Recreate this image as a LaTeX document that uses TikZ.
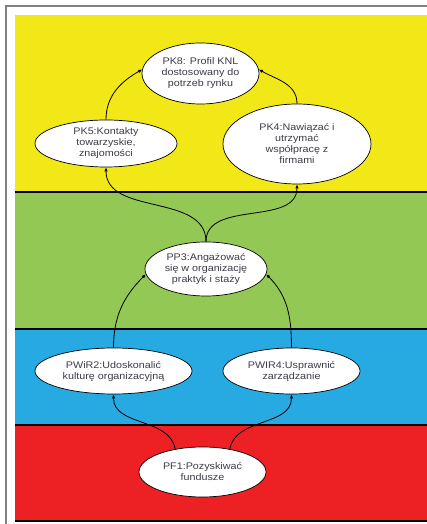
\documentclass[tikz,border=0pt]{standalone}
\usepackage{fontspec}
\setmainfont[FakeStretch=1.12]{Liberation Sans}
\usetikzlibrary{shapes.geometric,arrows.meta}
\definecolor{pasY}{RGB}{242,232,24}
\definecolor{pasG}{RGB}{146,200,83}
\definecolor{pasB}{RGB}{38,170,225}
\definecolor{pasR}{RGB}{237,32,36}
\definecolor{txt}{RGB}{60,60,72}

\begin{document}
\begin{tikzpicture}[x=1pt,y=1pt,>={Latex[length=4pt,width=3.5pt]},
  cel/.style={ellipse,draw,line width=0.7pt,fill=white,inner sep=0pt,align=center,
    font=\fontsize{9.6}{11}\selectfont,text=txt},
  link/.style={->,line width=0.8pt}]
\useasboundingbox (0,0) rectangle (427,524);
% pasy perspektyw
\fill[pasY] (15,332) rectangle (427,509);
\fill[pasG] (15,195) rectangle (427,332);
\fill[pasB] (15,99) rectangle (427,195);
\fill[pasR] (15,3) rectangle (427,99);
\draw[line width=1.2pt] (15,332) -- (427,332);
\draw[line width=1.2pt] (15,195) -- (427,195);
\draw[line width=1.2pt] (15,99) -- (427,99);
\draw[line width=1.2pt] (15,3) -- (427,3);
\draw[gray,line width=1.2pt] (6,-5) -- (6,518) -- (440,518);
% cele
\node[cel,minimum width=117pt,minimum height=61pt] (pk8) at (200.5,450.5) {PK8: Profil KNL\\dostosowany do\\potrzeb rynku};
\node[cel,minimum width=142pt,minimum height=47pt] (pk5) at (106,380.5) {PK5:Kontakty\\towarzyskie,\\znajomości};
\node[cel,minimum width=148pt,minimum height=80pt] (pk4) at (297,380) {PK4:Nawiązać i\\utrzymać\\współpracę z\\firmami};
\node[cel,minimum width=122pt,minimum height=54pt] (pp3) at (206,255) {PP3:Angażować\\się w organizację\\praktyk i staży};
\node[cel,minimum width=157pt,minimum height=46pt] (pwir2) at (113.5,153) {PWiR2:Udoskonalić\\kulturę organizacyjną};
\node[cel,minimum width=137pt,minimum height=46pt] (pwir4) at (291.5,153) {PWIR4:Usprawnić\\zarządzanie};
\node[cel,minimum width=127pt,minimum height=50pt] (pf1) at (202.5,52) {PF1:Pozyskiwać\\fundusze};
% powiazania
\draw[link] (pk5.north) to[out=90,in=210] (pk8.176);
\draw[link] (pk4.north) to[out=90,in=-30] (pk8.4);
\draw[link] (pp3.north) to[out=90,in=-90] (pk5.south);
\draw[link] (pp3.north) to[out=90,in=-90] (pk4.south);
\draw[link] (pwir2.north) to[out=90,in=225] (pp3.185);
\draw[link] (pwir4.north) to[out=90,in=-45] (pp3.355);
\draw[link] (pf1.140) to[out=100,in=-90] (pwir2.south);
\draw[link] (pf1.40) to[out=80,in=-90] (pwir4.south);
\end{tikzpicture}
\end{document}
